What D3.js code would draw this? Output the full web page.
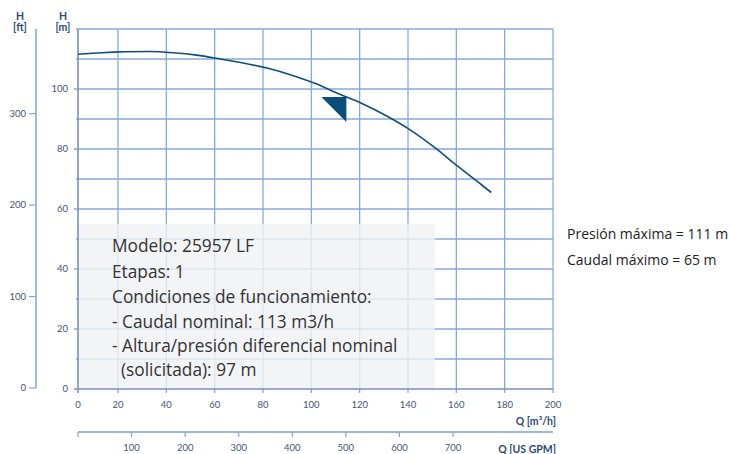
<!DOCTYPE html>
<html>
<head>
<meta charset="utf-8">
<script src="https://cdn.jsdelivr.net/npm/d3@7"></script>
<style>
  html, body { margin: 0; padding: 0; background: #fff; }
  svg { display: block; }
  text { font-family: Lato, "Noto Sans", sans-serif; }
  text.body { font-family: "Open Sans", "Noto Sans", sans-serif; }
</style>
</head>
<body>
<svg id="chart" width="731" height="454"></svg>
<script>
// Pump performance curve: head H [m] versus flow Q [m³/h]
const flowQ = [0, 10, 20, 30, 40, 50, 60, 70, 80, 90, 100, 110, 120, 130, 140, 150, 160, 170, 174];
const headH = [111.6, 112.1, 112.4, 112.5, 112.1, 111.3, 110.0, 108.6, 106.9, 104.6, 101.8, 98.3, 95.0, 91.0, 86.3, 80.6, 74.2, 68.0, 65.5];

// Nominal duty point
const nominalQ = 113;
const nominalH = 97;

// Axis ticks
const qTicks = [0, 20, 40, 60, 80, 100, 120, 140, 160, 180, 200];
const hGrid = [0, 10, 20, 30, 40, 50, 60, 70, 80, 90, 100, 110, 120];
const hLabels = [0, 20, 40, 60, 80, 100];
const ftTicks = [0, 100, 200, 300];
const gpmTicks = [0, 100, 200, 300, 400, 500, 600, 700];

// Info panel and side notes
const infoLines = [
  "Modelo: 25957 LF",
  "Etapas: 1",
  "Condiciones de funcionamiento:",
  "- Caudal nominal: 113 m3/h",
  "- Altura/presión diferencial nominal",
  "\u00a0\u00a0(solicitada): 97 m"
];
const sideNotes = ["Presión máxima = 111 m", "Caudal máximo = 65 m"];

(function draw() {
  const svg = d3.select("#chart");

  const pLeft = 78, pRight = 553, pTop = 29, pBottom = 389;

  // Grid / axis scale for Q (first division is narrower on this sheet)
  const xGrid = d3.scaleLinear().domain([0, 20, 200]).range([pLeft, 118, pRight]);
  // Scale the curve is plotted on
  const xData = d3.scaleLinear().domain([0, 200]).range([pLeft, pRight]);
  const y = d3.scaleLinear().domain([0, 120]).range([pBottom, pTop]);
  const yFt = d3.scaleLinear().domain([0, 120 * 3.28084]).range([pBottom - 1, pTop - 1]);
  const xGpm = d3.scaleLinear().domain([0, 700]).range([pLeft, 453]);

  const gridColor = "#86aad8";
  const axisColor = "#7892b4";
  const labelColor = "#3f5676";
  const titleColor = "#2c4a74";
  const curveColor = "#0e4f7d";

  // Grid lines
  const grid = svg.append("g");
  grid.selectAll("line.v").data(qTicks.slice(1)).join("line")
    .attr("x1", d => xGrid(d)).attr("x2", d => xGrid(d))
    .attr("y1", pTop).attr("y2", pBottom + 4)
    .attr("stroke", gridColor).attr("stroke-width", 1.3);
  grid.selectAll("line.h").data(hGrid.slice(1)).join("line")
    .attr("x1", d => hLabels.includes(d) ? pLeft - 4 : pLeft - 2).attr("x2", pRight)
    .attr("y1", d => y(d)).attr("y2", d => y(d))
    .attr("stroke", gridColor).attr("stroke-width", 1.3);

  // Info panel (semi-opaque, grid shows through)
  svg.append("rect")
    .attr("x", xGrid(0)).attr("y", y(55))
    .attr("width", 435 - xGrid(0)).attr("height", y(0) - y(55))
    .attr("fill", "#eff1f4").attr("opacity", 0.82);

  // Main axes lines
  svg.append("line").attr("x1", pLeft).attr("x2", pLeft).attr("y1", pTop).attr("y2", pBottom + 4)
    .attr("stroke", axisColor).attr("stroke-width", 1.6);
  svg.append("line").attr("x1", pLeft - 4).attr("x2", pRight).attr("y1", pBottom).attr("y2", pBottom)
    .attr("stroke", axisColor).attr("stroke-width", 1.6);

  // H [m] labels
  svg.append("g").selectAll("text").data(hLabels).join("text")
    .attr("x", 68).attr("y", d => y(d)).attr("dy", "0.35em")
    .attr("text-anchor", "end").attr("font-size", 9.5).attr("fill", labelColor)
    .text(d => d);

  // Q [m³/h] labels
  svg.append("g").selectAll("text").data(qTicks).join("text")
    .attr("x", d => xGrid(d)).attr("y", 408)
    .attr("text-anchor", "middle").attr("font-size", 9.5).attr("fill", labelColor)
    .text(d => d);

  // H [ft] axis
  const ftAxis = svg.append("g").attr("transform", "translate(36,0)");
  ftAxis.append("line").attr("x1", 0).attr("x2", 0).attr("y1", pTop).attr("y2", yFt(0))
    .attr("stroke", "#9dbde2").attr("stroke-width", 2);
  ftAxis.selectAll("line.t").data(ftTicks).join("line")
    .attr("x1", -7).attr("x2", 0).attr("y1", d => yFt(d)).attr("y2", d => yFt(d))
    .attr("stroke", "#8aa3c3").attr("stroke-width", 1.2);
  ftAxis.selectAll("text").data(ftTicks).join("text")
    .attr("x", -10).attr("y", d => yFt(d)).attr("dy", "0.35em")
    .attr("text-anchor", "end").attr("font-size", 9.5).attr("fill", labelColor)
    .text(d => d);

  // Q [US GPM] axis
  const gpmAxis = svg.append("g").attr("transform", "translate(0,432)");
  gpmAxis.append("line").attr("x1", pLeft).attr("x2", pRight).attr("y1", 0).attr("y2", 0)
    .attr("stroke", "#7aa2d2").attr("stroke-width", 1.6);
  gpmAxis.selectAll("line.t").data(gpmTicks).join("line")
    .attr("x1", d => xGpm(d)).attr("x2", d => xGpm(d)).attr("y1", 0).attr("y2", 5)
    .attr("stroke", "#8aa3c3").attr("stroke-width", 1.2);
  gpmAxis.selectAll("text").data(gpmTicks.slice(1)).join("text")
    .attr("x", d => xGpm(d)).attr("y", 19)
    .attr("text-anchor", "middle").attr("font-size", 9.5).attr("fill", labelColor)
    .text(d => d);

  // Axis titles
  const titles = svg.append("g").attr("font-weight", "bold").attr("fill", titleColor).attr("font-size", 10.5);
  titles.append("text").attr("x", 20).attr("y", 20).attr("text-anchor", "middle").text("H");
  titles.append("text").attr("x", 20).attr("y", 31).attr("text-anchor", "middle").text("[ft]");
  titles.append("text").attr("x", 63).attr("y", 20).attr("text-anchor", "middle").text("H");
  titles.append("text").attr("x", 63).attr("y", 31).attr("text-anchor", "middle").text("[m]");
  titles.append("text").attr("x", 556).attr("y", 425).attr("text-anchor", "end").text("Q [m³/h]");
  titles.append("text").attr("x", 556).attr("y", 453).attr("text-anchor", "end").text("Q [US GPM]");

  // Performance curve
  const line = d3.line()
    .x((d, i) => xData(flowQ[i]))
    .y(d => y(d))
    .curve(d3.curveMonotoneX);
  svg.append("path").datum(headH)
    .attr("d", line)
    .attr("fill", "none").attr("stroke", curveColor).attr("stroke-width", 1.6);

  // Duty point marker (right-angle triangle hanging below the point)
  const px = xData(nominalQ), py = y(nominalH);
  const s = 25;
  svg.append("path")
    .attr("d", `M${px - s},${py - 1}L${px},${py - 1}L${px},${py - 1 + s}Z`)
    .attr("fill", "#0a4f7b");

  // Info text
  svg.append("g").selectAll("text").data(infoLines).join("text")
    .attr("class", "body")
    .attr("x", 112)
    .attr("y", (d, i) => [252, 277.5, 303, 328, 351.5, 375.5][i])
    .attr("font-size", 17.3).attr("fill", "#333")
    .text(d => d);

  // Side notes
  svg.append("g").selectAll("text").data(sideNotes).join("text")
    .attr("class", "body")
    .attr("x", 567).attr("y", (d, i) => 239 + i * 26)
    .attr("font-size", 14).attr("fill", "#222")
    .text(d => d);
})();
</script>
</body>
</html>
